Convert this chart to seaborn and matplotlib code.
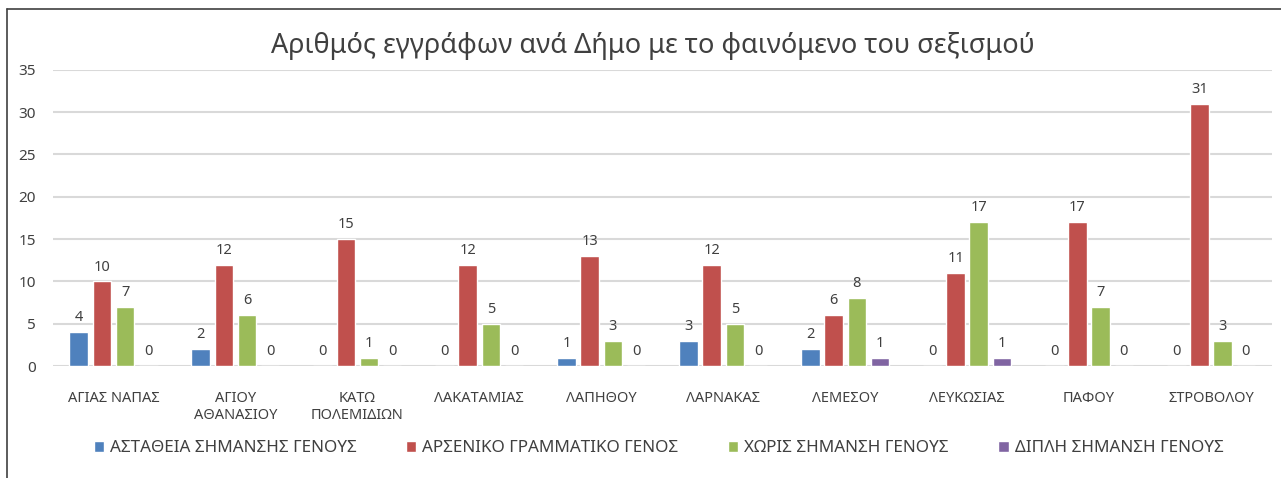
import pandas as pd
import matplotlib.pyplot as plt
import seaborn as sns
from matplotlib.patches import Patch
from matplotlib.lines import Line2D

municipalities = [
    "ΑΓΙΑΣ ΝΑΠΑΣ", "ΑΓΙΟΥ\nΑΘΑΝΑΣΙΟΥ", "ΚΑΤΩ\nΠΟΛΕΜΙΔΙΩΝ", "ΛΑΚΑΤΑΜΙΑΣ",
    "ΛΑΠΗΘΟΥ", "ΛΑΡΝΑΚΑΣ", "ΛΕΜΕΣΟΥ", "ΛΕΥΚΩΣΙΑΣ", "ΠΑΦΟΥ", "ΣΤΡΟΒΟΛΟΥ",
]
series_names = [
    "ΑΣΤΑΘΕΙΑ ΣΗΜΑΝΣΗΣ ΓΕΝΟΥΣ",
    "ΑΡΣΕΝΙΚΟ ΓΡΑΜΜΑΤΙΚΟ ΓΕΝΟΣ",
    "ΧΩΡΙΣ ΣΗΜΑΝΣΗ ΓΕΝΟΥΣ",
    "ΔΙΠΛΗ ΣΗΜΑΝΣΗ ΓΕΝΟΥΣ",
]
unstable = [4, 2, 0, 0, 1, 3, 2, 0, 0, 0]
masculine = [10, 12, 15, 12, 13, 12, 6, 11, 17, 31]
no_marking = [7, 6, 1, 5, 3, 5, 8, 17, 7, 3]
double = [0, 0, 0, 0, 0, 0, 1, 1, 0, 0]
colors = ["#4F81BD", "#C0504D", "#9BBB59", "#8064A2"]

# long format for seaborn
rows = []
for name, vals in zip(series_names, [unstable, masculine, no_marking, double]):
    for m, v in zip(municipalities, vals):
        rows.append({"Δήμος": m, "Σειρά": name, "Τιμή": v})
df = pd.DataFrame(rows)

sns.set_style("white")
plt.rcParams["font.family"] = ["Noto Sans", "DejaVu Sans"]

fig = plt.figure(figsize=(12.81, 4.78), dpi=100)
ax = fig.add_axes([0.041, 0.234, 0.952, 0.62])

sns.barplot(
    data=df, x="Δήμος", y="Τιμή", hue="Σειρά",
    order=municipalities, hue_order=series_names,
    palette=colors, width=0.76, gap=0.2, saturation=1,
    legend=False, ax=ax,
)

for cont in ax.containers:
    ax.bar_label(cont, padding=5, fontsize=10.5, color="#404040")

ax.set_ylim(0, 35)
ax.set_xlim(-0.5, 9.5)
ax.set_yticks(range(0, 36, 5))
ax.yaxis.grid(True, color="#D9D9D9", linewidth=1.5)
ax.set_axisbelow(True)
sns.despine(ax=ax, left=True, bottom=True)
ax.set_xlabel("")
ax.set_ylabel("")
ax.tick_params(axis="x", length=0, pad=18, labelsize=10.5, labelcolor="#404040")
ax.tick_params(axis="y", length=0, pad=12, labelsize=11, labelcolor="#404040")

fig.text(0.510, 0.903, "Αριθμός εγγράφων ανά Δήμο με το φαινόμενο του σεξισμού",
         ha="center", va="center", fontsize=19.5, color="#404040")

handles = [Patch(facecolor=c, label=n) for c, n in zip(colors, series_names)]
fig.legend(handles=handles, loc="center", bbox_to_anchor=(0.514, 0.062), ncol=4,
           frameon=False, fontsize=12.3, handlelength=0.6, handleheight=0.6,
           handletextpad=0.35, columnspacing=2.9, labelcolor="#404040")

# outer chart frame (top and left edges visible)
fig.add_artist(Line2D([7 / 1281, 1], [1 - 9 / 478, 1 - 9 / 478], color="#404040", lw=1.2))
fig.add_artist(Line2D([7 / 1281, 7 / 1281], [0, 1 - 9 / 478], color="#404040", lw=1.2))

fig.savefig("out.png", dpi=100)
